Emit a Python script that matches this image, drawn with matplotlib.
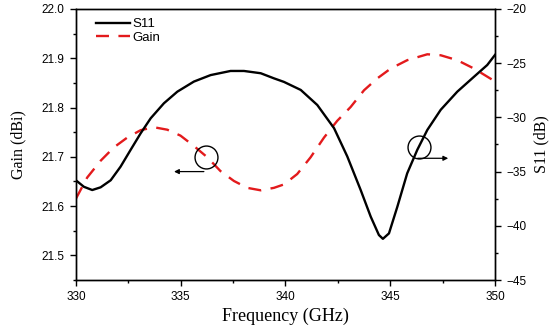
import matplotlib
matplotlib.use("Agg")
import matplotlib.pyplot as plt
from matplotlib.ticker import MultipleLocator

# S11 (right axis)
s11_freq = [330.0, 330.38, 330.78, 331.18, 331.66, 332.13, 332.61, 333.09, 333.57, 334.2,
            334.84, 335.63, 336.43, 337.38, 338.02, 338.82, 339.45, 339.93, 340.73, 341.52,
            342.32, 342.95, 343.59, 344.07, 344.46, 344.65, 344.94, 345.34, 345.81, 346.29,
            346.77, 347.41, 348.2, 349.0, 349.63, 350.0]
s11_db = [-35.8, -36.4, -36.7, -36.45, -35.8, -34.55, -33.0, -31.47, -30.08, -28.7,
          -27.63, -26.7, -26.1, -25.72, -25.72, -25.93, -26.4, -26.73, -27.47, -28.86,
          -31.0, -33.6, -36.7, -39.16, -40.85, -41.2, -40.7, -38.24, -35.16, -33.0,
          -31.16, -29.3, -27.63, -26.25, -25.17, -24.24]

# Gain (left axis)
gain_freq = [330.0, 330.54, 331.18, 331.81, 332.45, 333.09, 333.72, 334.36, 334.99, 335.63,
             336.27, 336.9, 337.54, 338.18, 338.82, 339.45, 339.93, 340.56, 341.2, 341.84,
             342.47, 343.11, 343.75, 344.38, 345.02, 345.81, 346.77, 347.41, 348.2, 349.0,
             350.0]
gain_dbi = [21.615, 21.658, 21.692, 21.719, 21.739, 21.754, 21.760, 21.755, 21.743, 21.722,
            21.699, 21.671, 21.651, 21.637, 21.632, 21.637, 21.644, 21.665, 21.699, 21.739,
            21.773, 21.801, 21.835, 21.859, 21.879, 21.896, 21.908, 21.906, 21.896, 21.879,
            21.853]

fig = plt.figure(figsize=(5.5, 3.31), dpi=100)
ax = fig.add_axes([0.138, 0.154, 0.762, 0.819])
ax2 = ax.twinx()

sans = ["Liberation Sans", "DejaVu Sans"]
serif = ["Liberation Serif", "DejaVu Serif"]

l1, = ax2.plot(s11_freq, s11_db, color="black", lw=1.7, label="S11",
               solid_joinstyle="round")
l2, = ax.plot(gain_freq, gain_dbi, color="#e31a1c", lw=1.7, ls=(0, (5.5, 4)), label="Gain")

ax.set_xlim(330, 350)
ax.set_ylim(21.45, 22.0)
ax2.set_ylim(-45, -20)

ax.xaxis.set_major_locator(MultipleLocator(5))
ax.xaxis.set_minor_locator(MultipleLocator(2.5))
ax.yaxis.set_major_locator(MultipleLocator(0.1))
ax.yaxis.set_minor_locator(MultipleLocator(0.05))
ax2.yaxis.set_major_locator(MultipleLocator(5))
ax2.yaxis.set_minor_locator(MultipleLocator(2.5))

for a in (ax, ax2):
    a.tick_params(which="major", length=4.5, width=1, direction="out", labelsize=8.5)
    a.tick_params(which="minor", length=2.5, width=1, direction="out")
    for lab in a.get_xticklabels() + a.get_yticklabels():
        lab.set_family(sans)
    for sp in a.spines.values():
        sp.set_linewidth(1.0)

ax.set_yticklabels([f"{v:.1f}" for v in ax.get_yticks()], family=sans)
ax.set_xlim(330, 350)
ax.set_ylim(21.45, 22.0)

ax.set_xlabel("Frequency (GHz)", family=serif, fontsize=13, labelpad=3)
ax.set_ylabel("Gain (dBi)", family=serif, fontsize=11.5, labelpad=11)
ax2.set_ylabel("S11 (dB)", family=serif, fontsize=11.5, labelpad=5)

leg = ax.legend([l1, l2], ["S11", "Gain"], loc="upper left", frameon=False,
                prop={"family": sans, "size": 9.5}, handlelength=2.6,
                handletextpad=0.2, borderaxespad=0.3, labelspacing=0.1,
                bbox_to_anchor=(0.025, 1.0))

# annotation circles and arrows
ax.plot([336.22], [21.700], marker="o", ms=16.5, mfc="none", mec="black", mew=1.0)
ax.annotate("", xy=(334.55, 21.670), xytext=(336.24, 21.670),
            arrowprops=dict(arrowstyle="-|>", color="black", lw=0.9, mutation_scale=7))
ax.plot([346.37], [21.719], marker="o", ms=16.5, mfc="none", mec="black", mew=1.0)
ax.annotate("", xy=(347.9, 21.697), xytext=(346.18, 21.697),
            arrowprops=dict(arrowstyle="-|>", color="black", lw=0.9, mutation_scale=7))

fig.savefig("out.png", dpi=100)
